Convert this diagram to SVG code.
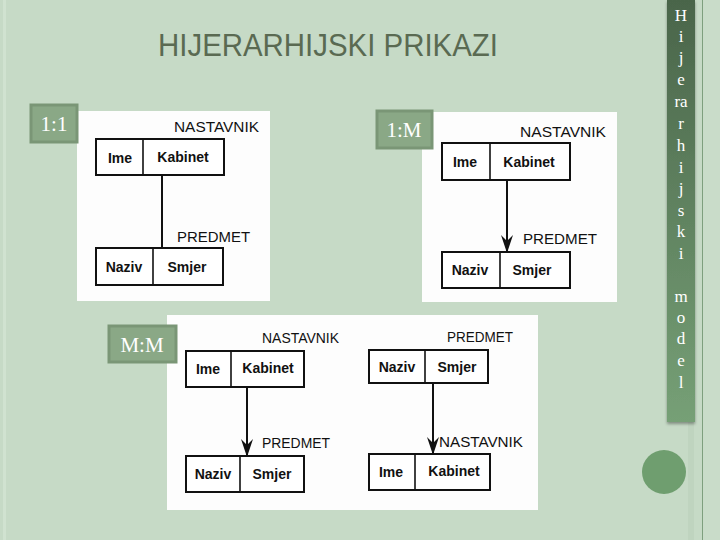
<svg xmlns="http://www.w3.org/2000/svg" width="720" height="540" viewBox="0 0 720 540">
<defs>
<linearGradient id="side" x1="0" y1="0" x2="0" y2="1">
<stop offset="0" stop-color="#4a654a"/>
<stop offset="1" stop-color="#76a076"/>
</linearGradient>
<marker id="ah" viewBox="0 0 18 12" refX="17" refY="6" markerWidth="18" markerHeight="12" markerUnits="userSpaceOnUse" orient="auto">
<path d="M0,0 L18,6 L0,12 L6,6 Z" fill="#111"/>
</marker>
<filter id="sh" x="-20%" y="-5%" width="140%" height="110%">
<feDropShadow dx="0" dy="2" stdDeviation="1.5" flood-color="#000" flood-opacity="0.35"/>
</filter>
</defs>
<style>
.pic{fill:#fdfdfd}
.box{fill:#fff;stroke:#111;stroke-width:2}
.div{stroke:#111;stroke-width:1.6}
.lbl{font-family:"Liberation Sans",Arial,sans-serif;font-size:14px;fill:#111}
.att{font-family:"Liberation Sans",Arial,sans-serif;font-size:14px;font-weight:bold;fill:#111;text-anchor:middle}
.tag{fill:#8aa886;stroke:#7a9676;stroke-width:3}
.tagt{font-family:"Liberation Serif","Times New Roman",serif;font-size:21px;fill:#fff;text-anchor:middle}
.conn{stroke:#111;stroke-width:2;fill:none}
.sidet{font-family:"Liberation Serif","Times New Roman",serif;font-size:17px;fill:#fff;text-anchor:middle}
</style>
<rect x="0" y="0" width="720" height="540" fill="#c6dac6"/>
<rect x="3" y="0" width="3" height="540" fill="#d0e2d0"/>
<rect x="688" y="0" width="6" height="540" fill="#bfd4bf"/>
<rect x="702" y="0" width="1.2" height="540" fill="#7e9f7e"/>
<rect x="703" y="0" width="17" height="540" fill="#c9dcc9"/>

<text x="328" y="56" font-family="'Liberation Sans',Arial,sans-serif" font-size="31" fill="#5a6a52" text-anchor="middle" textLength="340" lengthAdjust="spacingAndGlyphs">HIJERARHIJSKI PRIKAZI</text>

<g id="sidebar">
<rect x="667" y="0" width="28" height="422" fill="url(#side)" filter="url(#sh)"/>
<text class="sidet" x="681" y="21">H</text>
<text class="sidet" x="681" y="42">i</text>
<text class="sidet" x="681" y="63">j</text>
<text class="sidet" x="681" y="85">e</text>
<text class="sidet" x="681" y="107">ra</text>
<text class="sidet" x="681" y="129">r</text>
<text class="sidet" x="681" y="151">h</text>
<text class="sidet" x="681" y="173">i</text>
<text class="sidet" x="681" y="194">j</text>
<text class="sidet" x="681" y="216">s</text>
<text class="sidet" x="681" y="237">k</text>
<text class="sidet" x="681" y="259">i</text>
<text class="sidet" x="681" y="302">m</text>
<text class="sidet" x="681" y="323">o</text>
<text class="sidet" x="681" y="344">d</text>
<text class="sidet" x="681" y="366">e</text>
<text class="sidet" x="681" y="388">l</text>
</g>
<circle cx="664" cy="472" r="22" fill="#6f9e6f"/>

<!-- 1:1 -->
<g id="pic11">
<rect class="pic" x="77" y="111" width="193" height="190"/>
<g id="n11-nastavnik">
<text class="lbl" x="174" y="132" textLength="85" lengthAdjust="spacingAndGlyphs">NASTAVNIK</text>
<rect class="box" x="96" y="139" width="128" height="36"/>
<line class="div" x1="143" y1="139" x2="143" y2="175"/>
<text class="att" x="120" y="163">Ime</text>
<text class="att" x="183" y="162">Kabinet</text>
</g>
<g id="n11-predmet">
<text class="lbl" x="177" y="242" textLength="73" lengthAdjust="spacingAndGlyphs">PREDMET</text>
<rect class="box" x="96" y="248" width="127" height="37"/>
<line class="div" x1="153" y1="248" x2="153" y2="285"/>
<text class="att" x="124" y="272">Naziv</text>
<text class="att" x="187" y="272">Smjer</text>
</g>
</g>
<g id="tag11">
<rect class="tag" x="31" y="105" width="46" height="37"/>
<text class="tagt" x="54" y="131">1:1</text>
</g>

<!-- 1:M -->
<g id="pic1m">
<rect class="pic" x="422" y="112" width="195" height="190"/>
<g id="n1m-nastavnik">
<text class="lbl" x="520" y="137" textLength="86" lengthAdjust="spacingAndGlyphs">NASTAVNIK</text>
<rect class="box" x="442" y="143" width="128" height="37"/>
<line class="div" x1="490" y1="143" x2="490" y2="180"/>
<text class="att" x="465" y="167">Ime</text>
<text class="att" x="529" y="167">Kabinet</text>
</g>
<g id="n1m-predmet">
<text class="lbl" x="523" y="244" textLength="74" lengthAdjust="spacingAndGlyphs">PREDMET</text>
<rect class="box" x="442" y="252" width="128" height="36"/>
<line class="div" x1="500" y1="252" x2="500" y2="288"/>
<text class="att" x="470" y="275">Naziv</text>
<text class="att" x="532" y="275">Smjer</text>
</g>
</g>
<g id="tag1m">
<rect class="tag" x="377" y="111" width="55" height="37"/>
<text class="tagt" x="404" y="137">1:M</text>
</g>

<!-- M:M -->
<g id="picmm">
<rect class="pic" x="167" y="315" width="371" height="195"/>
<g id="nmm-nastavnik1">
<text class="lbl" x="262" y="343" textLength="77" lengthAdjust="spacingAndGlyphs">NASTAVNIK</text>
<rect class="box" x="186" y="351" width="118" height="36"/>
<line class="div" x1="231" y1="351" x2="231" y2="387"/>
<text class="att" x="208" y="374">Ime</text>
<text class="att" x="268" y="373">Kabinet</text>
</g>
<g id="nmm-predmet1">
<text class="lbl" x="262" y="448" textLength="68" lengthAdjust="spacingAndGlyphs">PREDMET</text>
<rect class="box" x="186" y="456" width="118" height="36"/>
<line class="div" x1="240" y1="456" x2="240" y2="492"/>
<text class="att" x="213" y="479">Naziv</text>
<text class="att" x="272" y="479">Smjer</text>
</g>
<g id="nmm-predmet2">
<text class="lbl" x="447" y="342" textLength="66" lengthAdjust="spacingAndGlyphs">PREDMET</text>
<rect class="box" x="369" y="350" width="119" height="33"/>
<line class="div" x1="425" y1="350" x2="425" y2="383"/>
<text class="att" x="397" y="372">Naziv</text>
<text class="att" x="457" y="372">Smjer</text>
</g>
<g id="nmm-nastavnik2">
<text class="lbl" x="439" y="447" textLength="84" lengthAdjust="spacingAndGlyphs">NASTAVNIK</text>
<rect class="box" x="369" y="454" width="121" height="36"/>
<line class="div" x1="415" y1="454" x2="415" y2="490"/>
<text class="att" x="391" y="477">Ime</text>
<text class="att" x="454" y="476">Kabinet</text>
</g>
</g>
<g id="tagmm">
<rect class="tag" x="109" y="326" width="67" height="36"/>
<text class="tagt" x="142" y="352">M:M</text>
</g>

<g id="connectors">
<line class="conn" x1="162" y1="175" x2="162" y2="248"/>
<line class="conn" x1="507" y1="180" x2="507" y2="252" marker-end="url(#ah)"/>
<line class="conn" x1="247" y1="387" x2="247" y2="456" marker-end="url(#ah)"/>
<line class="conn" x1="433" y1="383" x2="433" y2="454" marker-end="url(#ah)"/>
</g>
</svg>
